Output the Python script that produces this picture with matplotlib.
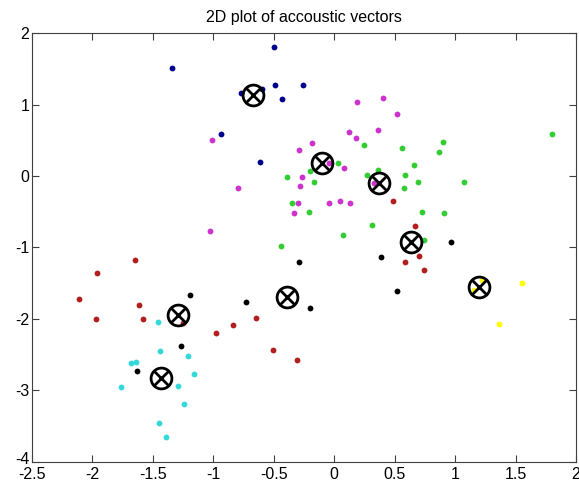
import matplotlib
matplotlib.use('Agg')
import matplotlib.pyplot as plt
import matplotlib.transforms as mtransforms
import numpy as np

plt.rcParams['font.family'] = ['Liberation Sans', 'DejaVu Sans']

# acoustic vectors, grouped by cluster colour
blue_x = [-1.34, -0.50, -0.77, -0.60, -0.49, -0.43, -0.26, -0.94, -0.61]
blue_y = [1.51, 1.81, 1.16, 1.22, 1.27, 1.08, 1.27, 0.59, 0.20]

magenta_x = [-1.01, -0.80, -1.03, -0.29, -0.28, -0.30, -0.33, 0.19, 0.40, 0.52, 0.12,
             0.18, 0.36, -0.18, -0.04, 0.08, -0.27, -0.04, 0.045, 0.13, 0.33]
magenta_y = [0.50, -0.16, -0.77, 0.36, -0.14, -0.37, -0.51, 1.04, 1.09, 0.87, 0.62,
             0.54, 0.64, 0.46, 0.19, 0.11, -0.01, -0.38, -0.35, -0.37, -0.09]

green_x = [-0.39, -0.35, -0.44, 0.25, 0.56, 0.90, 0.87, 1.80, 0.03, -0.20, -0.17, 0.27,
           0.36, 0.66, 0.585, 0.69, 0.58, 1.07, -0.21, 0.73, 0.91, 0.315, 0.075, 0.74]
green_y = [-0.01, -0.38, -0.98, 0.44, 0.39, 0.48, 0.34, 0.59, 0.18, 0.07, -0.08, 0.01,
           0.09, 0.15, 0.01, -0.08, -0.17, -0.08, -0.50, -0.50, -0.52, -0.68, -0.82, -0.89]

red_x = [0.49, 0.665, -1.65, -1.96, -2.11, -1.615, -1.97, -1.585, -1.25, -0.98, -0.84,
         -0.65, -0.51, -0.31, 0.585, 0.70, 0.74]
red_y = [-0.35, -0.70, -1.17, -1.36, -1.72, -1.80, -2.00, -2.00, -2.06, -2.20, -2.09,
         -1.99, -2.44, -2.58, -1.21, -1.12, -1.31]

black_x = [0.966, -1.19, -0.73, -1.27, -1.63, -0.29, -0.20, 0.387, 0.516]
black_y = [-0.93, -1.67, -1.76, -2.38, -2.73, -1.21, -1.85, -1.13, -1.61]

cyan_x = [-1.46, -1.44, -1.21, -1.16, -1.68, -1.64, -1.76, -1.29, -1.245, -1.45, -1.39]
cyan_y = [-2.05, -2.45, -2.52, -2.77, -2.62, -2.61, -2.96, -2.94, -3.19, -3.46, -3.66]

yellow_x = [1.553, 1.36, 1.22, 1.16]
yellow_y = [-1.50, -2.07, -1.45, -1.60]

# codebook centroids
cent_x = [-0.67, -0.10, 0.373, 0.632, -1.29, -1.43, -0.39, 1.20]
cent_y = [1.13, 0.19, -0.10, -0.93, -1.94, -2.83, -1.69, -1.55]

fig = plt.figure(figsize=(5.79, 4.87), dpi=100)
ax = fig.add_axes([0.0553, 0.052, 0.9395, 0.8796])

groups = [
    (blue_x, blue_y, '#00008f'),
    (magenta_x, magenta_y, '#cc33cc'),
    (green_x, green_y, '#33cc33'),
    (red_x, red_y, '#b31f1f'),
    (black_x, black_y, 'black'),
    (cyan_x, cyan_y, '#33d9d9'),
    (yellow_x, yellow_y, '#ffff00'),
]
for gx, gy, c in groups:
    ax.plot(gx, gy, 'o', color=c, markersize=4.2, markeredgewidth=0)

ax.plot(cent_x, cent_y, 'o', markerfacecolor='none', markeredgecolor='black',
        markersize=15, markeredgewidth=2)
ax.plot(cent_x, cent_y, 'x', color='black', markersize=10, markeredgewidth=2)

ax.set_xlim(-2.5, 2)
ax.set_ylim(-4, 2)
ax.set_xticks(np.arange(-2.5, 2.01, 0.5))
ax.set_xticklabels(['-2.5', '-2', '-1.5', '-1', '-0.5', '0', '0.5', '1', '1.5', '2'])
ax.set_yticks(np.arange(-4, 2.01, 1))
ax.set_yticklabels(['-4', '-3', '-2', '-1', '0', '1', '2'])
ax.tick_params(direction='in', top=True, right=True, length=5, labelsize=11.5,
               color='#404040')
ax.tick_params(axis='x', pad=4)
ax.tick_params(axis='y', pad=2)
# lift the "-4" label a little so it clears "-2.5"
lab = ax.get_yticklabels()[0]
lab.set_transform(lab.get_transform() + mtransforms.ScaledTranslation(0, 3 / 72, fig.dpi_scale_trans))
for s in ax.spines.values():
    s.set_color('#404040')
ax.set_title('2D plot of accoustic vectors', fontsize=11.5, pad=8)

fig.savefig('out.png', dpi=100)
